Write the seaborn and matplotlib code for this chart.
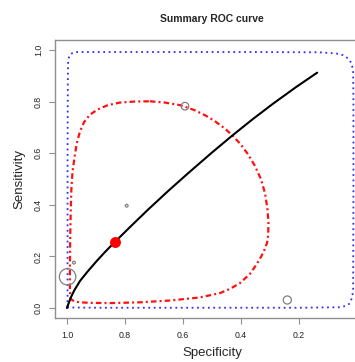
import matplotlib
matplotlib.use("Agg")
import matplotlib.pyplot as plt
import seaborn as sns

# ---- data ----
# SROC curve (false positive rate -> specificity, sensitivity)
sroc_fpr = [0.0, 0.002, 0.005, 0.013, 0.025, 0.045, 0.07, 0.10, 0.13, 0.166, 0.22,
            0.28, 0.35, 0.42, 0.50, 0.568, 0.64, 0.71, 0.79, 0.863]
sroc_sens = [0.0, 0.008, 0.016, 0.040, 0.068, 0.105, 0.140, 0.179, 0.216, 0.257, 0.317,
             0.382, 0.455, 0.525, 0.603, 0.667, 0.732, 0.792, 0.857, 0.913]
sroc_spec = [1 - f for f in sroc_fpr]

# confidence region
conf_spec = [0.714, 0.662, 0.610, 0.593, 0.559, 0.524, 0.490, 0.455, 0.431, 0.403,
             0.376, 0.352, 0.331, 0.317, 0.309, 0.305, 0.306, 0.310, 0.319, 0.329,
             0.345, 0.369, 0.403, 0.438, 0.472, 0.541, 0.645, 0.748, 0.852, 0.921,
             0.955, 0.972, 0.983, 0.988, 0.990, 0.990, 0.989, 0.987, 0.985, 0.981,
             0.974, 0.966, 0.955, 0.941, 0.921, 0.893, 0.859, 0.817, 0.766, 0.714]
conf_sens = [0.802, 0.797, 0.787, 0.781, 0.767, 0.748, 0.725, 0.696, 0.671, 0.638,
             0.597, 0.552, 0.500, 0.446, 0.388, 0.333, 0.283, 0.252, 0.225, 0.202,
             0.171, 0.132, 0.097, 0.074, 0.058, 0.041, 0.029, 0.022, 0.019, 0.020,
             0.022, 0.025, 0.031, 0.041, 0.070, 0.147, 0.264, 0.380, 0.457, 0.527,
             0.585, 0.640, 0.686, 0.721, 0.750, 0.771, 0.787, 0.797, 0.801, 0.802]

# prediction region
pred_spec = [0.998, 0.998, 0.998, 0.997, 0.996, 0.991, 0.983, 0.969, 0.714, 0.369,
             0.128, 0.070, 0.048, 0.030, 0.019, 0.013, 0.012, 0.012, 0.013, 0.016,
             0.024, 0.038, 0.059, 0.197, 0.541, 0.886, 0.990, 0.998]
pred_sens = [0.002, 0.225, 0.612, 0.884, 0.961, 0.981, 0.988, 0.993, 0.993, 0.993,
             0.992, 0.987, 0.981, 0.968, 0.950, 0.922, 0.806, 0.419, 0.070, 0.043,
             0.018, 0.008, 0.003, 0.001, 0.001, 0.001, 0.002, 0.002]

# summary point
summary_spec = [0.834]
summary_sens = [0.257]

# individual studies
study_spec = [0.593, 0.240, 0.998, 0.976, 0.794]
study_sens = [0.783, 0.031, 0.121, 0.176, 0.397]
study_marker_area = [30, 34, 140, 4, 4]

x_ticks = [1.0, 0.8, 0.6, 0.4, 0.2, 0.0]
x_tick_labels = ["1.0", "0.8", "0.6", "0.4", "0.2", "0"]
y_ticks = [0.0, 0.2, 0.4, 0.6, 0.8, 1.0]
y_tick_labels = ["0.0", "0.2", "0.4", "0.6", "0.8", "1.0"]

# ---- style ----
sns.set_style("white")
plt.rcParams['font.family'] = ['Liberation Sans', 'DejaVu Sans']

fig = plt.figure(figsize=(3.55, 3.62), dpi=100)
ax = fig.add_axes([0.156, 0.1207, 0.882, 0.769])

# prediction region (blue dotted)
sns.lineplot(x=pred_spec, y=pred_sens, sort=False, estimator=None, ax=ax,
             color="#2f2fff", lw=1.3)
ax.get_lines()[-1].set_dashes((1.0, 2.0))

# confidence region (red dot-dash)
sns.lineplot(x=conf_spec, y=conf_sens, sort=False, estimator=None, ax=ax,
             color="#ff1010", lw=1.6)
ax.get_lines()[-1].set_dashes((2.5, 1.4, 0.9, 1.4))

# SROC curve
sns.lineplot(x=sroc_spec, y=sroc_sens, sort=False, estimator=None, ax=ax,
             color="black", lw=1.5)

# studies
sns.scatterplot(x=study_spec, y=study_sens, ax=ax, s=study_marker_area,
                facecolor="none", edgecolor="#808080", linewidth=0.9, zorder=4)

# summary point
sns.scatterplot(x=summary_spec, y=summary_sens, ax=ax, s=62, color="#ff0000",
                edgecolor="#ff0000", linewidth=0, zorder=5)

ax.set_xlim(1.04, -0.04)
ax.set_ylim(-0.04, 1.04)
ax.set_xticks(x_ticks)
ax.set_xticklabels(x_tick_labels)
ax.set_yticks(y_ticks)
ax.set_yticklabels(y_tick_labels, rotation=90, va="center")

for sp in ax.spines.values():
    sp.set_color("#909090")
    sp.set_linewidth(1.0)

ax.tick_params(axis="both", which="both", direction="out", length=4, width=0.8,
               color="#909090", labelsize=6.3, labelcolor="#222222",
               bottom=True, left=True)
ax.tick_params(axis="x", pad=5)
ax.tick_params(axis="y", pad=5)

ax.set_xlabel("Specificity", fontsize=9.5, va="center")
ax.set_ylabel("Sensitivity", fontsize=9.5, va="center")
ax.xaxis.set_label_coords(0.5, -0.1246)
ax.yaxis.set_label_coords(-0.116, 0.5)

fig.text(0.597, 0.948, "Summary ROC curve", fontsize=7.5, fontweight="bold",
         ha="center", va="center")

fig.savefig("out.png", dpi=100)
